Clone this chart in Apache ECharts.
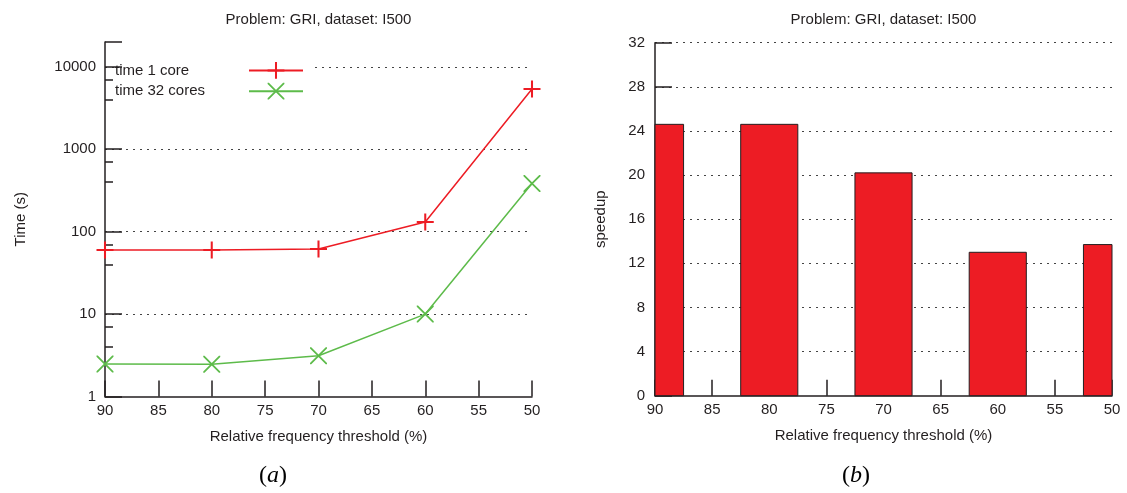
<!DOCTYPE html>
<html><head><meta charset="utf-8">
<script src="https://cdn.jsdelivr.net/npm/echarts@6/dist/echarts.min.js"></script>
<style>html,body{margin:0;padding:0;background:#fff}#c{width:1127px;height:493px}</style>
</head><body><div id="c"></div>
<script>
// ---- data ----
const thresholds = [90, 80, 70, 60, 50];
const time1Core = [60, 60, 61.5, 131, 5370];
const time32Cores = [2.48, 2.46, 3.12, 10, 385];
const speedup = [24.6, 24.6, 20.2, 13.0, 13.7];
const timeTickLabels = [1, 10, 100, 1000, 10000];
const seriesNames = ['time 1 core', 'time 32 cores'];
const chartTitle = 'Problem: GRI, dataset: I500';
const xName = 'Relative frequency threshold (%)';
const yNameLeft = 'Time (s)';
const yNameRight = 'speedup';
const panelLabels = ['a', 'b'];
const barSpan = 5; // bar width in threshold units

// ---- style ----
const FONT = '"Liberation Sans", Arial, sans-serif';
const TEXT = '#231F20';
const AX = '#231F20';
const RED = '#ED1C24';
const GREEN = '#5DBB4A';
const PLUS = 'path://M0,4.4L10,4.4L10,5.6L0,5.6Z M4.4,0L5.6,0L5.6,10L4.4,10Z';
const CROSS = 'path://M0,0L0.75,0L10,9.25L10,10L9.25,10L0,0.75Z M10,0L10,0.75L0.75,10L0,10L0,9.25L9.25,0Z';

const axisLineS = {lineStyle: {color: AX, width: 1.5}};
const tickS = {color: AX, width: 1.5};
const labelS = {fontSize: 15, color: TEXT, fontFamily: FONT};
const gridS = {type: [2, 5], color: '#444', width: 1};

function isTimeTick(v) {
  return timeTickLabels.some(t => Math.abs(t - v) / t < 1e-6);
}
function panelLabel(s) {
  return {text: '{r|(}{i|' + s + '}{r|)}', textAlign: 'center', textVerticalAlign: 'middle',
    rich: {r: {fontFamily: '"Liberation Serif"', fontSize: 24, color: TEXT},
           i: {fontFamily: '"Liberation Serif"', fontStyle: 'italic', fontSize: 24, color: TEXT}}};
}

const chart = echarts.init(document.getElementById('c'), null, {renderer: 'canvas'});
chart.setOption({
  animation: false,
  backgroundColor: '#fff',
  textStyle: {fontFamily: FONT, color: TEXT},
  graphic: [
    {type: 'text', x: 318.5, y: 20, style: {text: chartTitle, font: '15px ' + FONT, fill: TEXT, textAlign: 'center', textVerticalAlign: 'middle'}},
    {type: 'text', x: 883.5, y: 20, style: {text: chartTitle, font: '15px ' + FONT, fill: TEXT, textAlign: 'center', textVerticalAlign: 'middle'}},
    {type: 'text', x: 273, y: 476, style: panelLabel(panelLabels[0])},
    {type: 'text', x: 856, y: 476, style: panelLabel(panelLabels[1])}
  ],
  grid: [
    {left: 105, right: 595, top: 42, bottom: 96.5, outerBoundsMode: 'none'},
    {left: 655, right: 15, top: 42.7, bottom: 97.3, outerBoundsMode: 'none'}
  ],
  legend: {
    data: seriesNames, orient: 'vertical', left: 115, top: 60, align: 'right',
    itemWidth: 54, itemHeight: 21, itemGap: 4, padding: [2, 8, 2, 0],
    backgroundColor: '#fff', z: 1, selectedMode: false,
    formatter: n => '{t|' + n + '}',
    textStyle: {rich: {t: {width: 129, align: 'left', fontSize: 15, fontFamily: FONT, color: TEXT}}}
  },
  xAxis: [0, 1].map(g => ({
    gridIndex: g, type: 'value', min: 50, max: 90, interval: 5, inverse: true,
    axisLine: axisLineS,
    axisTick: {inside: true, length: 16, lineStyle: tickS},
    axisLabel: Object.assign({margin: 7}, labelS),
    splitLine: {show: false},
    name: xName, nameLocation: 'middle', nameGap: 33,
    nameTextStyle: {fontSize: 15, color: TEXT, fontFamily: FONT}
  })),
  yAxis: [
    {gridIndex: 0, type: 'log', logBase: 10, min: 1, max: 20000, position: 'left', z: 0,
      axisLine: {show: false}, axisTick: {show: false}, axisLabel: {show: false},
      splitLine: {show: true, showMinLine: false, showMaxLine: false, lineStyle: gridS}},
    {gridIndex: 0, type: 'log', logBase: 10, min: 1, max: 20000, position: 'left', z: 5,
      axisLine: axisLineS,
      axisTick: {inside: true, length: 17, lineStyle: tickS},
      minorTick: {show: true, splitNumber: 3, length: 8, lineStyle: tickS},
      axisLabel: Object.assign({margin: 9, formatter: v => isTimeTick(v) ? String(Math.round(v)) : ''}, labelS),
      splitLine: {show: false},
      name: yNameLeft, nameLocation: 'middle', nameGap: 77,
      nameTextStyle: {fontSize: 15, color: TEXT, fontFamily: FONT}},
    {gridIndex: 1, type: 'value', min: 0, max: 32, interval: 4, position: 'left',
      axisLine: axisLineS,
      axisTick: {inside: true, length: 17, lineStyle: tickS},
      axisLabel: Object.assign({margin: 10}, labelS),
      splitLine: {show: true, showMinLine: false, lineStyle: gridS},
      name: yNameRight, nameLocation: 'middle', nameGap: 47,
      nameTextStyle: {fontSize: 15, color: TEXT, fontFamily: FONT}}
  ],
  series: [
    {type: 'line', name: seriesNames[0], xAxisIndex: 0, yAxisIndex: 0, z: 6, clip: false,
      data: thresholds.map((x, i) => [x, time1Core[i]]),
      symbol: PLUS, symbolSize: 17, showSymbol: true,
      lineStyle: {color: RED, width: 1.5}, itemStyle: {color: RED}},
    {type: 'line', name: seriesNames[1], xAxisIndex: 0, yAxisIndex: 0, z: 6, clip: false,
      data: thresholds.map((x, i) => [x, time32Cores[i]]),
      symbol: CROSS, symbolSize: 17, showSymbol: true,
      lineStyle: {color: GREEN, width: 1.5}, itemStyle: {color: GREEN}},
    {type: 'custom', xAxisIndex: 1, yAxisIndex: 2,
      data: thresholds.map((x, i) => [x, speedup[i]]),
      renderItem: function (params, api) {
        const x = api.value(0), y = api.value(1);
        const base = api.coord([x, 0]);
        const top = api.coord([x, y]);
        const w = Math.abs(api.size([barSpan, 0])[0]);
        const cs = params.coordSys;
        const rect = echarts.graphic.clipRectByRect(
          {x: base[0] - w / 2, y: top[1], width: w, height: base[1] - top[1]},
          {x: cs.x, y: cs.y, width: cs.width, height: cs.height});
        return rect && {type: 'rect', shape: rect, style: {fill: RED, stroke: AX, lineWidth: 1}};
      }}
  ]
});
</script>
</body></html>
